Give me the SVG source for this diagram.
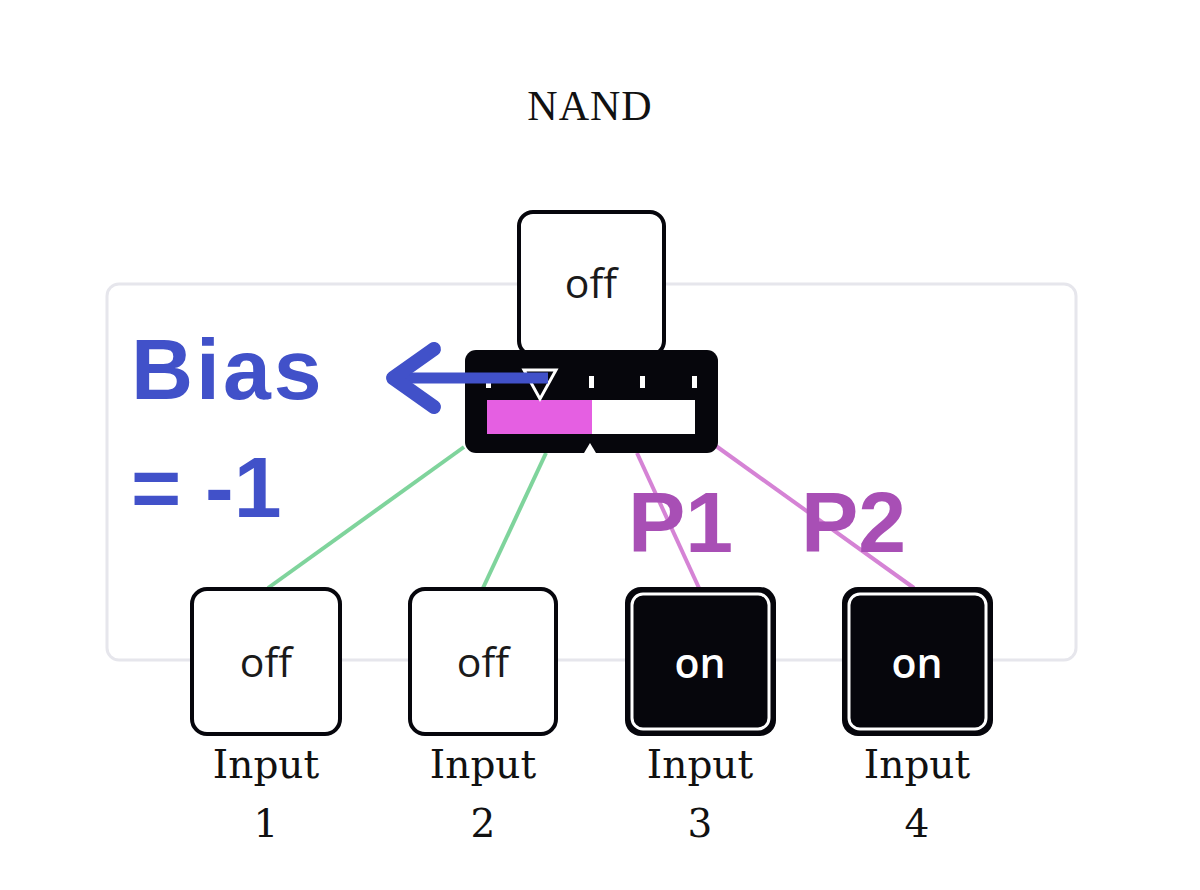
<svg xmlns="http://www.w3.org/2000/svg" width="1200" height="890" viewBox="0 0 1200 890">
<defs>
<style>
.frame{fill:none;stroke:#e6e6ec;stroke-width:3}
.box{fill:#ffffff;stroke:#06060c;stroke-width:4}
.dark{fill:#06060c}
.ring{fill:none;stroke:#ffffff;stroke-width:3}
.state{font-family:"Open Sans","Noto Sans",sans-serif;font-size:41px;text-anchor:middle;fill:#1a1a1a}
.on{fill:#ffffff;font-weight:600}
.lbl{font-family:"DejaVu Serif","Liberation Serif",serif;font-size:39px;text-anchor:middle;fill:#111}
.big{font-family:"Liberation Sans",Arial,sans-serif;font-weight:bold;font-size:86px}
.green{stroke:#7fd49c;stroke-width:4;fill:none}
.pink{stroke:#d583d5;stroke-width:4;fill:none}
</style>
</defs>
<rect width="1200" height="890" fill="#ffffff"/>
<text x="590" y="120" font-family="Liberation Serif,serif" font-size="42" text-anchor="middle" fill="#111" letter-spacing="1">NAND</text>
<rect class="frame" x="107" y="284" width="969" height="376" rx="12"/>
<g id="connectors">
<line class="green" x1="464" y1="447" x2="268" y2="588"/>
<line class="green" x1="546" y1="453" x2="483" y2="588"/>
<line class="pink" x1="637" y1="453" x2="699" y2="588"/>
<line class="pink" x1="716" y1="446" x2="914" y2="588"/>
</g>
<g id="output">
<rect class="box" x="519" y="212" width="145" height="143" rx="14"/>
<text class="state" x="591" y="298">off</text>
</g>
<g id="bias-bar">
<rect x="465" y="350" width="253" height="103" rx="11" fill="#06060c"/>
<polygon points="584,453 596,453 590,443" fill="#ffffff"/>
<rect x="487" y="400" width="105" height="34" fill="#e55fe2"/>
<rect x="592" y="400" width="103" height="34" fill="#ffffff"/>
<rect x="589" y="376" width="5" height="12" fill="#ffffff"/>
<rect x="640" y="376" width="5" height="12" fill="#ffffff"/>
<rect x="692" y="376" width="5" height="12" fill="#ffffff"/>
<rect x="486" y="376" width="5" height="12" fill="#ffffff"/>
<polygon points="524,370 556,370 540,399" fill="#06060c" stroke="#ffffff" stroke-width="3"/>
</g>
<g id="bias-note">
<line x1="548" y1="378" x2="398" y2="378" stroke="#4151c9" stroke-width="11"/>
<polyline points="434,349 393,378 434,407" fill="none" stroke="#4151c9" stroke-width="14" stroke-linecap="round" stroke-linejoin="round"/>
<text class="big" x="131" y="399" fill="#4151c9" letter-spacing="3">Bias</text>
<text class="big" x="131" y="517" fill="#4151c9">= -1</text>
</g>
<g id="weights">
<text class="big" x="628" y="552" fill="#a84fb5">P1</text>
<text class="big" x="801" y="552" fill="#a84fb5">P2</text>
</g>
<g id="input1">
<rect class="box" x="192" y="589" width="148" height="145" rx="15"/>
<text class="state" x="266" y="677">off</text>
<text class="lbl" x="266" y="778">Input</text>
<text class="lbl" x="266" y="837">1</text>
</g>
<g id="input2">
<rect class="box" x="410" y="589" width="146" height="145" rx="15"/>
<text class="state" x="483" y="677">off</text>
<text class="lbl" x="483" y="778">Input</text>
<text class="lbl" x="483" y="837">2</text>
</g>
<g id="input3">
<rect class="dark" x="625" y="587" width="151" height="149" rx="16"/>
<rect class="ring" x="632" y="594" width="137" height="135" rx="11"/>
<text class="state on" x="700" y="678">on</text>
<text class="lbl" x="700" y="778">Input</text>
<text class="lbl" x="700" y="837">3</text>
</g>
<g id="input4">
<rect class="dark" x="842" y="587" width="151" height="149" rx="16"/>
<rect class="ring" x="849" y="594" width="137" height="135" rx="11"/>
<text class="state on" x="917" y="678">on</text>
<text class="lbl" x="917" y="778">Input</text>
<text class="lbl" x="917" y="837">4</text>
</g>
</svg>
